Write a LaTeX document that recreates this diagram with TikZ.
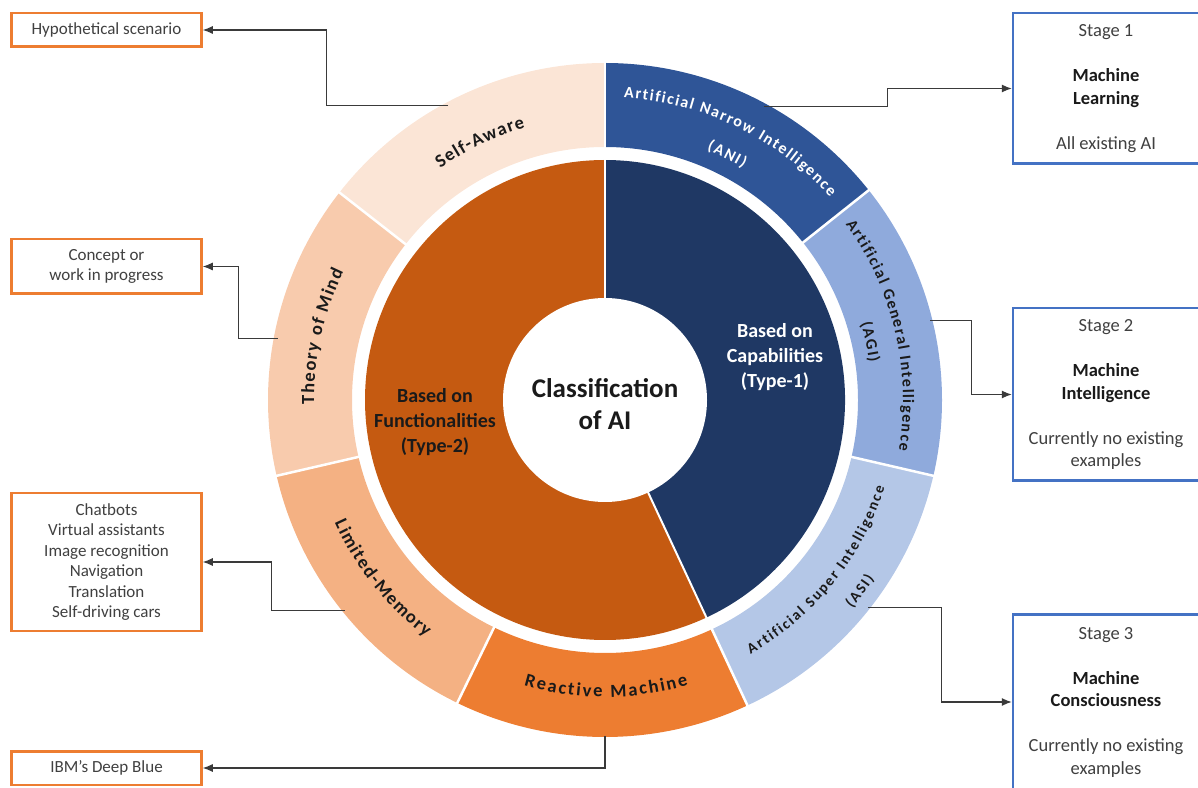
\documentclass[tikz,border=0pt]{standalone}
\usepackage{fontspec}
\setmainfont{Carlito}
\usepackage{xcolor}
\usepackage{tikz}
\usetikzlibrary{arrows.meta,positioning,decorations.text,calc}

\definecolor{pieorange}{HTML}{C55A11}
\definecolor{pieblue}{HTML}{1F3864}
\definecolor{ringsa}{HTML}{FBE5D6}
\definecolor{ringtm}{HTML}{F8CBAD}
\definecolor{ringlm}{HTML}{F4B183}
\definecolor{ringrm}{HTML}{ED7D31}
\definecolor{ringani}{HTML}{2F5597}
\definecolor{ringagi}{HTML}{8FAADC}
\definecolor{ringasi}{HTML}{B4C7E7}
\definecolor{boxorange}{HTML}{ED7D31}
\definecolor{boxblue}{HTML}{4472C4}
\definecolor{txtgray}{HTML}{404040}
\definecolor{txtdark}{HTML}{1A1A1A}
\definecolor{linegray}{HTML}{3A3A3A}

% font for the ring labels: size, extra space before each letter
\newcommand{\ringfont}[2]{\bfseries\fontsize{#1}{#1}\selectfont\kern#2pt}
\newcommand{\stagebold}[1]{\textcolor{txtdark}{\bfseries #1}}

% one piece of the outer ring: start angle, end angle, colour
\newcommand{\ringpart}[3]{\fill[#3] (#1:253) arc[start angle=#1,end angle=#2,radius=253] -- (#2:337) arc[start angle=#2,end angle=#1,radius=337] -- cycle;}

\tikzset{
  leftbox/.style={draw=boxorange, line width=2.5pt, fill=white, align=center, text=txtgray,
    font=\fontsize{17}{20.5}\selectfont, minimum width=190pt, inner sep=2pt},
  stagebox/.style={draw=boxblue, line width=2.5pt, fill=white, align=center, text=txtgray,
    font=\fontsize{18.5}{22.5}\selectfont, minimum width=186pt, inner sep=2pt},
  link/.style={draw=linegray, line width=1.1pt, -{Latex[length=10pt,width=8pt]}},
  ringlabel/.style={decorate, decoration={text along path, text align=center, text color=#1}},
}

\begin{document}
\begin{tikzpicture}[x=1pt,y=1pt]
	\useasboundingbox (0,0) rectangle (1198,787);
	\clip (0,0) rectangle (1198,787);
	
	% the wheel
	\begin{scope}[shift={(605,387)}]
		\fill[pieorange] (0,0) -- (90:240) arc[start angle=90,end angle=295,radius=240] -- cycle;
		\fill[pieblue] (0,0) -- (-65:240) arc[start angle=-65,end angle=90,radius=240] -- cycle;
		\ringpart{90}{142}{ringsa}
		\ringpart{142}{193}{ringtm}
		\ringpart{193}{244}{ringlm}
		\ringpart{244}{295}{ringrm}
		\ringpart{-65}{-13}{ringasi}
		\ringpart{-13}{38.5}{ringagi}
		\ringpart{38.5}{90}{ringani}
		\foreach \a in {-65,90} \draw[white,line width=2pt] (0,0) -- (\a:245);
		\foreach \a in {-65,-13,38.5,90,142,193,244} \draw[white,line width=2.5pt] (\a:250) -- (\a:340);
		\fill[white] (0,0) circle[radius=102];
		
		% labels along the ring
		\path[ringlabel=txtdark, decoration={text={|\ringfont{18.5}{1.2}|Self-Aware}}] (156:284) arc[start angle=156,end angle=76,radius=284];
		\path[ringlabel=txtdark, decoration={text={|\ringfont{18.5}{1.4}|Theory of Mind}}] (207.5:291) arc[start angle=207.5,end angle=127.5,radius=291];
		\path[ringlabel=txtdark, decoration={text={|\ringfont{18.5}{1.4}|Limited-Memory}}] (178.5:297) arc[start angle=178.5,end angle=258.5,radius=297];
		\path[ringlabel=txtdark, decoration={text={|\ringfont{18.5}{2}|Reactive Machine}}] (230:297) arc[start angle=230,end angle=310,radius=297];
		\path[ringlabel=white, decoration={text={|\ringfont{16}{1.5}|Artificial Narrow Intelligence}}] (104.4:303) arc[start angle=104.4,end angle=24.4,radius=303];
		\path[ringlabel=white, decoration={text={|\ringfont{16}{1.5}|(ANI)}}] (103.7:270) arc[start angle=103.7,end angle=23.7,radius=270];
		\path[ringlabel=txtdark, decoration={text={|\ringfont{16}{1.5}|Artificial General Intelligence}}] (53.4:298) arc[start angle=53.4,end angle=-26.6,radius=298];
		\path[ringlabel=txtdark, decoration={text={|\ringfont{16}{1.5}|(AGI)}}] (52.5:267) arc[start angle=52.5,end angle=-27.5,radius=267];
		\path[ringlabel=txtdark, decoration={text={|\ringfont{15}{1.8}|Artificial Super Intelligence}}] (-79:293) arc[start angle=-79,end angle=1,radius=293];
		\path[ringlabel=txtdark, decoration={text={|\ringfont{15}{1.8}|(ASI)}}] (-77:323) arc[start angle=-77,end angle=3,radius=323];
		
		% where the links leave the ring
		\coordinate (saout) at (118:334);
		\coordinate (tmout) at (169.3:333);
		\coordinate (lmout) at (219:335);
		\coordinate (rmout) at (270:336);
		\coordinate (aniout) at (61.5:334);
		\coordinate (agiout) at (13.7:335);
		\coordinate (asiout) at (-38.3:335);
	\end{scope}
	
	% texts in the middle
	\node[font=\bfseries\fontsize{27}{32}\selectfont, text=txtdark, align=center] (title) at (605,383) {Classification\\of AI};
	\node[font=\bfseries\fontsize{20}{25}\selectfont, text=txtdark, align=center] (func) at (435,365) {Based on\\Functionalities\\(Type-2)};
	\node[font=\bfseries\fontsize{20}{25}\selectfont, text=white, align=center] (capab) at (775,430) {Based on\\Capabilities\\(Type-1)};
	
	% boxes on the left
	\node[leftbox, minimum height=33.5pt] (hyp) at (106.5,757) {Hypothetical scenario};
	\node[leftbox, minimum height=54.5pt] (concept) at (106.5,520.5) {Concept or\\work in progress};
	\node[leftbox, minimum height=137.5pt] (apps) at (106.5,225) {Chatbots\\Virtual assistants\\Image recognition\\Navigation\\Translation\\Self-driving cars};
	\node[leftbox, minimum height=33.5pt] (ibm) at (106.5,19) {IBM’s Deep Blue};
	
	% boxes on the right
	\node[stagebox, minimum height=150.5pt] (stage1) at (1106,698.5) {Stage 1\\[22.5pt]\stagebold{Machine}\\\stagebold{Learning}\\[22.5pt]All existing AI};
	\node[stagebox, minimum height=172.5pt] (stage2) at (1106,392.5) {Stage 2\\[22.5pt]\stagebold{Machine}\\\stagebold{Intelligence}\\[22.5pt]Currently no existing\\examples};
	\node[stagebox, minimum height=175.5pt] (stage3) at (1106,85) {Stage 3\\[22.5pt]\stagebold{Machine}\\\stagebold{Consciousness}\\[22.5pt]Currently no existing\\examples};
	
	% links
	\draw[link] (saout) -| ([xshift=124pt]hyp.east) -- (hyp.east);
	\draw[link] (tmout) -| ([xshift=36pt]concept.east) -- (concept.east);
	\draw[link] (lmout) -| ([xshift=69pt]apps.east) -- (apps.east);
	\draw[link] (rmout) |- (ibm.east);
	\draw[link] (aniout) -| ([xshift=-124pt]stage1.west) -- (stage1.west);
	\draw[link] (agiout) -| ([xshift=-40pt]stage2.west) -- (stage2.west);
	\draw[link] (asiout) -| ([xshift=-70pt]stage3.west) -- (stage3.west);
\end{tikzpicture}
\end{document}
